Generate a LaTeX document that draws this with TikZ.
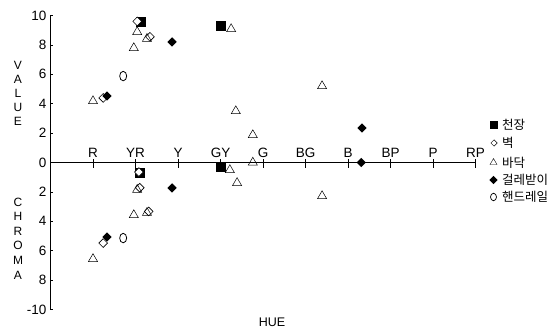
\documentclass[tikz,border=0pt]{standalone}
\usepackage{fontspec}
\setmainfont{Liberation Sans}
\newfontfamily\krfont{Noto Sans CJK KR}
\usepackage{tikz}
\usetikzlibrary{shapes.geometric}

\begin{document}
\begin{tikzpicture}[x=42.5pt,y=14.7pt,font=\fontsize{13.5}{15}\selectfont,
  sqr/.style={rectangle,fill=black,minimum size=10.5pt,inner sep=0pt},
  odia/.style={diamond,draw=black,fill=white,line width=0.6pt,minimum size=9pt,inner sep=0pt},
  fdia/.style={diamond,fill=black,minimum size=9.5pt,inner sep=0pt},
  tri/.style={regular polygon,regular polygon sides=3,draw=black,line width=0.5pt,minimum size=10.5pt,inner sep=0pt},
  rnd/.style={ellipse,draw=black,line width=0.8pt,minimum width=7pt,minimum height=9.5pt,inner sep=0pt}]
  \useasboundingbox (-50.5pt,-168.5pt) rectangle (505.5pt,162.5pt);

  % Axes
  \draw[line width=0.8pt] (0,10) -- (0,-10);
  \draw[line width=0.8pt] (0,0) -- (10,0);
  % value (up) and chroma (down) ticks
  \foreach \y/\t [count=\i] in {10/10,8/8,6/6,4/4,2/2,0/0,-2/2,-4/4,-6/6,-8/8,-10/-10} {
    \draw (0,\y) -- ++(3pt,0);
    \node[anchor=east,inner sep=0pt] (ly\i) at (-4pt,\y) {\t};
  }
  % hue ticks
  \foreach \h [count=\i] in {R,YR,Y,GY,G,BG,B,BP,P,RP} {
    \draw (\i,3pt) -- (\i,-6pt);
    \node[anchor=south,inner sep=0pt] (hue\i) at (\i,5pt) {\h};
  }

  % Axis titles
  \foreach \l [count=\i] in {V,A,L,U,E}
    \node[font=\fontsize{12}{13}\selectfont] (val\i) at (-32.5pt,{97.5pt-14pt*(\i-1)}) {\l};
  \foreach \l [count=\i] in {C,H,R,O,M,A}
    \node[font=\fontsize{12}{13}\selectfont] (chr\i) at (-32.5pt,{-39.5pt-14.6pt*(\i-1)}) {\l};
  \node[font=\fontsize{12.5}{13}\selectfont] (huelbl) at (221.5pt,-159.5pt) {HUE};

  % 천장
  \foreach \h/\v [count=\i] in {2.13/9.56,4.01/9.29,2.11/-0.71,4.01/-0.31}
    \node[sqr] (sq\i) at (\h,\v) {};
  % 벽
  \foreach \h/\v [count=\i] in {2.04/9.6,1.24/4.39,2.34/8.55,2.08/-0.65,2.1/-1.72,2.31/-3.33,1.24/-5.48}
    \node[odia] (od\i) at (\h,\v) {};
  % 바닥
  \foreach \h/\v [count=\i] in {2.04/8.88,2.27/8.42,1.96/7.79,1.0/4.18,4.25/9.08,4.36/3.50,4.76/1.87,6.39/5.20,
      4.76/0,2.04/-1.85,1.96/-3.57,2.27/-3.42,1.0/-6.56,4.22/-0.51,4.39/-1.39,6.39/-2.28}
    \node[tri] (tri\i) at (\h,\v) {};
  % 걸레받이
  \foreach \h/\v [count=\i] in {2.86/8.20,1.33/4.52,7.33/2.35,7.31/0,2.86/-1.73,1.33/-5.07}
    \node[fdia] (fd\i) at (\h,\v) {};
  % 핸드레일
  \foreach \h/\v [count=\i] in {1.71/5.88,1.71/-5.14}
    \node[rnd] (hr\i) at (\h,\v) {};

  % Legend
  \node[sqr,minimum size=8.5pt] (key1) at (443.5pt,37.5pt) {};
  \node[odia,minimum size=6.5pt,line width=0.5pt] (key2) at (443.5pt,19.5pt) {};
  \node[tri,minimum size=8pt,line width=0.4pt] (key3) at (443pt,0pt) {};
  \node[fdia,minimum size=8.5pt] (key4) at (443pt,-17.5pt) {};
  \node[rnd,minimum width=6pt,minimum height=7.5pt,line width=0.7pt] (key5) at (443pt,-34.5pt) {};
  \foreach \t [count=\i] in {천장,벽,바닥,걸레받이,핸드레일}
    \node[anchor=west,inner sep=0pt,font=\krfont\fontsize{12.5}{13}\selectfont] (txt\i) at ([xshift=3.5pt]key\i.center -| 448pt,0) {\t};
\end{tikzpicture}
\end{document}
